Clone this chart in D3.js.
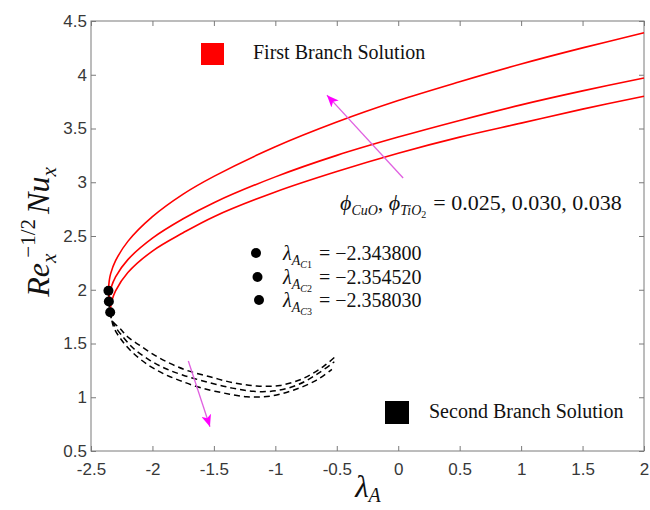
<!DOCTYPE html>
<html lang="en">
<head>
<meta charset="UTF-8">
<title>Nusselt number, first and second branch</title>
<script src="https://cdn.jsdelivr.net/npm/d3@7.9.0/dist/d3.min.js"></script>
<style>
    body { margin: 0; background: #fff; }
    .tick text { font-family: "Liberation Sans", Arial, sans-serif; font-size: 17px; fill: #383838; }
    .tick line { stroke: #7a7a7a; }
    .serif { font-family: "Liberation Serif", "Times New Roman", serif; fill: #111; }
</style>
</head>
<body>
<svg id="chart" width="650" height="510"></svg>
<script>
// ---- data ----
const xTicks = [-2.5, -2, -1.5, -1, -0.5, 0, 0.5, 1, 1.5, 2];
const yTicks = [0.5, 1, 1.5, 2, 2.5, 3, 3.5, 4, 4.5];

// critical (turning) points, top dot to bottom dot
const criticalLambda = [-2.358030, -2.354520, -2.343800];
const criticalNu = [1.99, 1.89, 1.79];
const criticalLabels = ['C1', 'C2', 'C3'];
const criticalText = ['\u22122.343800', '\u22122.354520', '\u22122.358030'];

// first branch (solid red), curve A = top, C = bottom
const firstLambdaA = [-2.358, -2.352, -2.34, -2.3, -2.2, -2.0, -1.75, -1.5, -1.0, -0.5, 0, 0.5, 1.0, 1.5, 2.0];
const firstNuA     = [1.99, 2.08, 2.15, 2.27, 2.45, 2.68, 2.89, 3.055, 3.33, 3.56, 3.76, 3.935, 4.10, 4.25, 4.39];
const firstLambdaB = [-2.3545, -2.3485, -2.34, -2.3, -2.2, -2.0, -1.75, -1.5, -1.0, -0.5, 0, 0.5, 1.0, 1.5, 2.0];
const firstNuB     = [1.89, 1.97, 2.01, 2.12, 2.28, 2.48, 2.66, 2.81, 3.05, 3.25, 3.42, 3.575, 3.72, 3.85, 3.97];
const firstLambdaC = [-2.3438, -2.338, -2.33, -2.3, -2.2, -2.0, -1.75, -1.5, -1.0, -0.5, 0, 0.5, 1.0, 1.5, 2.0];
const firstNuC     = [1.79, 1.86, 1.90, 1.99, 2.16, 2.36, 2.53, 2.68, 2.91, 3.10, 3.27, 3.42, 3.55, 3.68, 3.80];

// second branch (dashed black)
const secondLambdaA = [-2.358, -2.352, -2.34, -2.318, -2.25, -2.156, -2.034, -1.912, -1.776, -1.613, -1.424, -1.234, -1.044, -0.854, -0.664, -0.54];
const secondNuA     = [1.99, 1.90, 1.80, 1.66, 1.53, 1.41, 1.30, 1.22, 1.155, 1.09, 1.04, 1.005, 1.01, 1.065, 1.16, 1.26];
const secondLambdaB = [-2.3545, -2.348, -2.335, -2.31, -2.26, -2.16, -2.03, -1.90, -1.75, -1.55, -1.35, -1.18, -1.0, -0.82, -0.66, -0.52];
const secondNuB     = [1.89, 1.82, 1.74, 1.67, 1.59, 1.46, 1.35, 1.27, 1.205, 1.14, 1.085, 1.055, 1.06, 1.115, 1.215, 1.33];
const secondLambdaC = [-2.3438, -2.336, -2.32, -2.264, -2.20, -2.10, -1.98, -1.857, -1.72, -1.532, -1.342, -1.152, -0.962, -0.773, -0.61, -0.50];
const secondNuC     = [1.79, 1.74, 1.70, 1.64, 1.56, 1.48, 1.39, 1.315, 1.25, 1.19, 1.135, 1.105, 1.11, 1.175, 1.285, 1.39];

// arrows (data coordinates: tail -> tip)
const arrowFirst = [[0.04, 3.04], [-0.58, 3.81]];
const arrowSecond = [[-1.708, 1.337], [-1.532, 0.726]];

// ---- layout ----
const margin = { top: 21, right: 6, bottom: 59, left: 91 };
const W = 650, H = 510;
const width = W - margin.left - margin.right;
const height = H - margin.top - margin.bottom;

const svg = d3.select('#chart');
const g = svg.append('g').attr('transform', `translate(${margin.left},${margin.top})`);

const x = d3.scaleLinear().domain([-2.5, 2]).range([0, width]);
const y = d3.scaleLinear().domain([0.5, 4.5]).range([height, 0]);

const fmt = d => String(d);

// axes, ticks pointing inward on all four sides
g.append('g').attr('transform', `translate(0,${height})`)
    .call(d3.axisBottom(x).tickValues(xTicks).tickFormat(fmt).tickSize(-5).tickPadding(12));
g.append('g')
    .call(d3.axisLeft(y).tickValues(yTicks).tickFormat(fmt).tickSize(-5).tickPadding(4));
g.append('g')
    .call(d3.axisTop(x).tickValues(xTicks).tickFormat('').tickSize(-5));
g.append('g').attr('transform', `translate(${width},0)`)
    .call(d3.axisRight(y).tickValues(yTicks).tickFormat('').tickSize(-5));
g.selectAll('.domain').remove();

g.append('rect')
    .attr('width', width).attr('height', height)
    .attr('fill', 'none').attr('stroke', '#7a7a7a').attr('stroke-width', 1);

// curves
const line = d3.line()
    .x(d => x(d[0]))
    .y(d => y(d[1]))
    .curve(d3.curveCatmullRom.alpha(0.5));

const zip = (a, b) => a.map((v, i) => [v, b[i]]);

const firstBranch = [
    zip(firstLambdaA, firstNuA),
    zip(firstLambdaB, firstNuB),
    zip(firstLambdaC, firstNuC)
];
const secondBranch = [
    zip(secondLambdaA, secondNuA),
    zip(secondLambdaB, secondNuB),
    zip(secondLambdaC, secondNuC)
];

g.selectAll('.second')
    .data(secondBranch)
    .enter().append('path')
    .attr('class', 'second')
    .attr('d', line)
    .attr('fill', 'none')
    .attr('stroke', '#000')
    .attr('stroke-width', 1.5)
    .attr('stroke-dasharray', '6,4');

g.selectAll('.first')
    .data(firstBranch)
    .enter().append('path')
    .attr('class', 'first')
    .attr('d', line)
    .attr('fill', 'none')
    .attr('stroke', '#ff0000')
    .attr('stroke-width', 1.6);

// turning points
g.selectAll('.crit')
    .data(criticalLambda)
    .enter().append('circle')
    .attr('cx', d => x(d))
    .attr('cy', (d, i) => y(criticalNu[i]))
    .attr('r', 5)
    .attr('fill', '#000');

// arrows
const defs = svg.append('defs');
defs.append('marker')
    .attr('id', 'head')
    .attr('viewBox', '0 0 12 10')
    .attr('refX', 12).attr('refY', 5)
    .attr('markerWidth', 12).attr('markerHeight', 10)
    .attr('markerUnits', 'userSpaceOnUse')
    .attr('orient', 'auto')
    .append('path')
    .attr('d', 'M0,0 L12,5 L0,10 L3,5 Z')
    .attr('fill', '#ff00ff');

[arrowFirst, arrowSecond].forEach(a => {
    g.append('line')
        .attr('x1', x(a[0][0])).attr('y1', y(a[0][1]))
        .attr('x2', x(a[1][0])).attr('y2', y(a[1][1]))
        .attr('stroke', '#e060e0')
        .attr('stroke-width', 1.3)
        .attr('marker-end', 'url(#head)');
});

// branch legend
svg.append('rect').attr('x', 201).attr('y', 43).attr('width', 23).attr('height', 22).attr('fill', '#ff0000');
svg.append('text').attr('class', 'serif').attr('x', 253).attr('y', 59)
    .style('font-size', '20px').text('First Branch Solution');
svg.append('rect').attr('x', 385).attr('y', 401).attr('width', 24).attr('height', 23).attr('fill', '#000');
svg.append('text').attr('class', 'serif').attr('x', 429).attr('y', 418)
    .style('font-size', '20px').text('Second Branch Solution');

// critical value legend
const critRows = [253, 277, 300];
critRows.forEach((cy, i) => {
    svg.append('circle').attr('cx', 256 + i * 1.5).attr('cy', cy).attr('r', 5).attr('fill', '#000');
    const t = svg.append('text').attr('class', 'serif').attr('x', 283).attr('y', cy + 7)
        .style('font-size', '20px');
    t.append('tspan').style('font-style', 'italic').text('\u03bb');
    t.append('tspan').attr('dy', 5).style('font-size', '14px').style('font-style', 'italic').text('A');
    t.append('tspan').attr('dy', 3).style('font-size', '10px').style('font-style', 'italic').text('C');
    t.append('tspan').style('font-size', '10px').text(criticalLabels[i].slice(1));
    t.append('tspan').attr('dy', -8).attr('dx', 7).text('= ' + criticalText[i]);
});

// volume fraction annotation
const phi = svg.append('text').attr('class', 'serif').attr('x', 340).attr('y', 210)
    .style('font-size', '22px');
phi.append('tspan').style('font-style', 'italic').text('\u03d5');
phi.append('tspan').attr('dy', 5).style('font-size', '14px').style('font-style', 'italic').text('CuO');
phi.append('tspan').attr('dy', -5).text(', ');
phi.append('tspan').style('font-style', 'italic').text('\u03d5');
phi.append('tspan').attr('dy', 5).style('font-size', '14px').style('font-style', 'italic').text('TiO');
phi.append('tspan').attr('dy', 3).style('font-size', '10px').text('2');
phi.append('tspan').attr('dy', -8).attr('dx', 7).text('= 0.025, 0.030, 0.038');

// axis titles
const xl = svg.append('text').attr('class', 'serif')
    .attr('x', 368).attr('y', 497)
    .attr('text-anchor', 'middle')
    .style('font-size', '31px');
xl.append('tspan').style('font-style', 'italic').text('\u03bb');
xl.append('tspan').attr('dy', 5).style('font-size', '20px').style('font-style', 'italic').text('A');

const yl = svg.append('text').attr('class', 'serif')
    .attr('transform', 'translate(49,232) rotate(-90)')
    .attr('text-anchor', 'middle')
    .style('font-size', '32px');
yl.append('tspan').style('font-style', 'italic').text('Re');
yl.append('tspan').attr('dy', 7).style('font-size', '21px').style('font-style', 'italic').text('x');
yl.append('tspan').attr('dy', -21).attr('dx', -4).style('font-size', '21px').text('\u22121/2');
yl.append('tspan').attr('dy', 14).attr('dx', 5).style('font-style', 'italic').text('Nu');
yl.append('tspan').attr('dy', 7).style('font-size', '21px').style('font-style', 'italic').text('x');
</script>
</body>
</html>
